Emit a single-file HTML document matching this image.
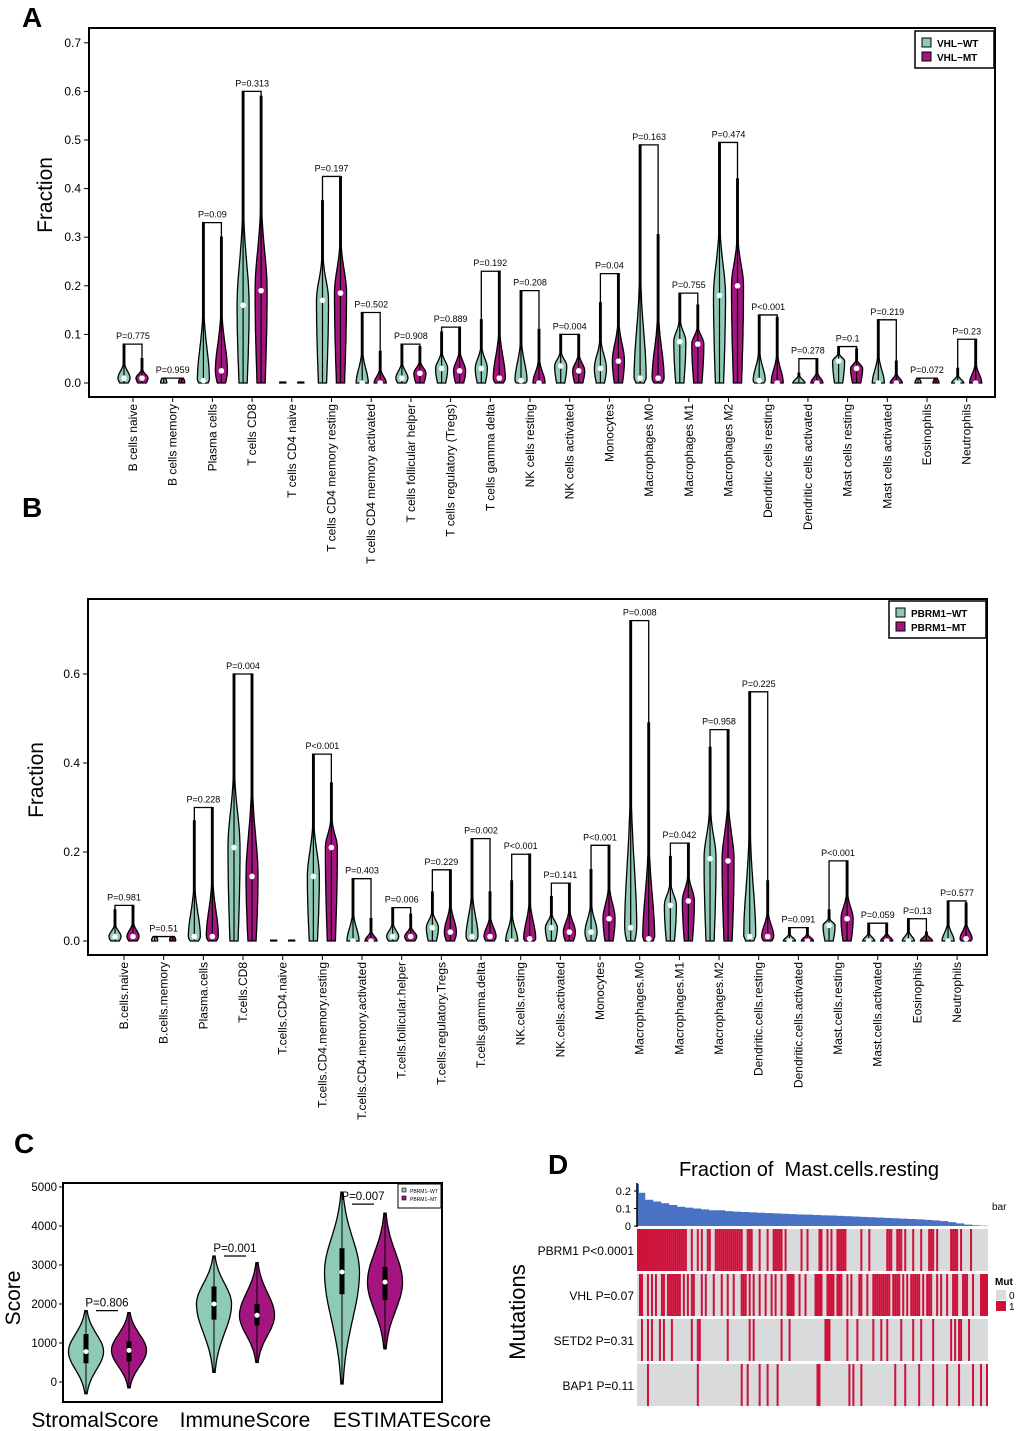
<!DOCTYPE html>
<html><head><meta charset="utf-8"><style>
body{margin:0;background:#fff;font-family:"Liberation Sans",Arial,sans-serif}
svg{display:block}
</style></head><body>
<svg id="fig" width="1020" height="1431" viewBox="0 0 1020 1431" xmlns="http://www.w3.org/2000/svg" font-family="Liberation Sans, Arial, sans-serif">
<text x="22" y="27" font-size="28" font-weight="bold">A</text>
<text x="22" y="517" font-size="28" font-weight="bold">B</text>
<text x="14" y="1153" font-size="28" font-weight="bold">C</text>
<text x="548" y="1174" font-size="28" font-weight="bold">D</text>
<g id="gA"></g>
<g id="gB"></g>
<g id="gC"></g>
<g id="gD"></g>
</svg>
<script>
// ---------- Panel A data (VHL) ----------
const catsA = ["B cells naive","B cells memory","Plasma cells","T cells CD8","T cells CD4 naive","T cells CD4 memory resting","T cells CD4 memory activated","T cells follicular helper","T cells regulatory (Tregs)","T cells gamma delta","NK cells resting","NK cells activated","Monocytes","Macrophages M0","Macrophages M1","Macrophages M2","Dendritic cells resting","Dendritic cells activated","Mast cells resting","Mast cells activated","Eosinophils","Neutrophils"];
const maxWtA = [0.08,0.01,0.33,0.60,0.002,0.375,0.145,0.08,0.105,0.13,0.19,0.10,0.165,0.49,0.185,0.495,0.14,0.02,0.075,0.13,0.01,0.03];
const medWtA = [0.01,0.002,0.005,0.16,0,0.17,0,0.01,0.03,0.03,0.005,0.035,0.03,0.01,0.085,0.18,0.005,0,0.045,0,0,0];
const maxMtA = [0.05,0.01,0.30,0.59,0.002,0.425,0.065,0.075,0.115,0.23,0.11,0.10,0.225,0.305,0.16,0.42,0.135,0.05,0.07,0.045,0.01,0.09];
const medMtA = [0.01,0.002,0.025,0.19,0,0.185,0,0.02,0.025,0.01,0,0.025,0.045,0.01,0.08,0.20,0,0,0.03,0,0,0];
const pA = ["P=0.775","P=0.959","P=0.09","P=0.313","","P=0.197","P=0.502","P=0.908","P=0.889","P=0.192","P=0.208","P=0.004","P=0.04","P=0.163","P=0.755","P=0.474","P<0.001","P=0.278","P=0.1","P=0.219","P=0.072","P=0.23"];
const ticksA = [0,0.1,0.2,0.3,0.4,0.5,0.6,0.7];
const legendA = ["VHL\u2212WT","VHL\u2212MT"];
// ---------- Panel B data (PBRM1) ----------
const catsB = ["B.cells.naive","B.cells.memory","Plasma.cells","T.cells.CD8","T.cells.CD4.naive","T.cells.CD4.memory.resting","T.cells.CD4.memory.activated","T.cells.follicular.helper","T.cells.regulatory.Tregs","T.cells.gamma.delta","NK.cells.resting","NK.cells.activated","Monocytes","Macrophages.M0","Macrophages.M1","Macrophages.M2","Dendritic.cells.resting","Dendritic.cells.activated","Mast.cells.resting","Mast.cells.activated","Eosinophils","Neutrophils"];
const maxWtB = [0.07,0.01,0.27,0.60,0.002,0.42,0.14,0.075,0.11,0.23,0.135,0.10,0.16,0.72,0.19,0.435,0.56,0.03,0.07,0.04,0.05,0.09];
const medWtB = [0.01,0.002,0.01,0.21,0,0.145,0,0.01,0.03,0.01,0,0.03,0.02,0.03,0.08,0.185,0.01,0,0.035,0,0,0];
const maxMtB = [0.08,0.01,0.30,0.60,0.002,0.355,0.05,0.06,0.16,0.11,0.195,0.13,0.215,0.49,0.22,0.475,0.135,0.03,0.18,0.04,0.02,0.085];
const medMtB = [0.01,0.002,0.01,0.145,0,0.21,0,0.01,0.02,0.01,0.005,0.02,0.05,0.005,0.09,0.18,0.01,0,0.05,0,0,0.005];
const pB = ["P=0.981","P=0.51","P=0.228","P=0.004","","P<0.001","P=0.403","P=0.006","P=0.229","P=0.002","P<0.001","P=0.141","P<0.001","P=0.008","P=0.042","P=0.958","P=0.225","P=0.091","P<0.001","P=0.059","P=0.13","P=0.577"];
const ticksB = [0,0.2,0.4,0.6];
const legendB = ["PBRM1\u2212WT","PBRM1\u2212MT"];
// ---------- Panel C data ----------
const catsC = ["StromalScore","ImmuneScore","ESTIMATEScore"];
const minWtC = [-300,250,-50], maxWtC = [1830,3230,4870], medWtC = [780,2000,2820], q1WtC=[480,1600,2250], q3WtC=[1230,2450,3430];
const minMtC = [-150,500,850], maxMtC = [1780,3060,4330], medMtC = [810,1710,2560], q1MtC=[530,1450,2100], q3MtC=[1040,2000,2950];
const pC = ["P=0.806","P=0.001","P=0.007"];
const pYC = [1830,3230,4560];
const ticksC = [0,1000,2000,3000,4000,5000];
// ---------- Panel D data ----------
const barD = [0.19,0.15,0.14,0.13,0.12,0.11,0.105,0.10,0.095,0.09,0.09,0.085,0.082,0.08,0.078,0.076,0.074,0.072,0.07,0.068,0.066,0.065,0.063,0.061,0.06,0.058,0.056,0.054,0.052,0.05,0.048,0.046,0.044,0.042,0.04,0.038,0.035,0.032,0.028,0.022,0.015,0.008,0.004,0.002];
const genesD = ["PBRM1 P<0.0001","VHL P=0.07","SETD2 P=0.31","BAP1 P=0.11"];
const mutPBRM1 = [0,1,2,3,4,5,6,7,8,9,10,11,12,13,14,15,16,17,18,19,20,21,22,23,24,27,30,32,35,36,39,40,41,42,43,44,45,46,47,48,49,50,51,52,55,56,57,61,65,68,69,70,71,72,74,82,85,91,92,95,97,100,101,102,103,104,112,116,125,126,127,130,131,132,134,138,142,146,147,148,150,157,158,159,160,162,167];
const mutVHL = [1,2,5,7,9,12,13,15,16,17,18,19,20,21,23,25,27,28,32,34,38,42,45,48,52,53,54,56,58,61,64,67,69,72,75,76,77,78,81,84,89,90,91,92,95,96,97,98,100,101,102,105,107,111,112,115,118,119,120,121,122,123,124,125,126,128,129,130,131,133,135,137,138,139,140,141,143,145,146,147,150,152,155,158,159,160,163,164,165,168,172,173,174,175];
const mutSETD2 = [2,5,7,11,13,17,27,30,31,45,56,58,72,76,94,95,96,105,110,118,122,125,132,138,142,148,157,159,161,162,166];
const mutBAP1 = [5,30,52,55,61,65,70,90,91,106,108,112,129,134,141,148,155,161,168,172,175];
const ticksD = [0,0.1,0.2];
const NS = "http://www.w3.org/2000/svg";
const TEAL = "#8ecab5", MAG = "#a3167f";
function mk(parent, tag, attrs, txt){const e=document.createElementNS(NS,tag);for(const k in attrs)e.setAttribute(k,attrs[k]);if(txt!==undefined)e.textContent=txt;parent.appendChild(e);return e;}

function violinPath(cx, yScale, lo, hi, med, hw, sd){
  const L=[],R=[];const n=50;
  for(let i=0;i<=n;i++){const v=lo+(hi-lo)*i/n;const s=v<med?sd[0]:sd[1];
    let w=hw*Math.exp(-Math.pow((v-med)/s,2));w=Math.max(w,0.8);
    const y=yScale(v);L.push([cx-w,y]);R.push([cx+w,y]);}
  let d="M"+L.map(p=>p[0].toFixed(1)+","+p[1].toFixed(1)).join("L");
  d+="L"+R.reverse().map(p=>p[0].toFixed(1)+","+p[1].toFixed(1)).join("L")+"Z";
  return d;
}

function drawViolinPanel(g, cfg){
  const {x0,x1,y0,y1,zeroY,unitPx,cats,maxW,medW,maxM,medM,p,ticks,legend,lx,ly,lw,title,titleY,first,step,tickFmt}=cfg;
  const y=v=>zeroY-v*unitPx;
  const xc=i=>first+i*step;
  let e=mk(g,"rect",{x:x0,y:y0,width:x1-x0,height:y1-y0,fill:"none",stroke:"#000","stroke-width":2});
  
  ticks.forEach(t=>{mk(g,"line",{x1:x0-5,x2:x0,y1:y(t),y2:y(t),stroke:"#000"});
    e=mk(g,"text",{x:x0-8,y:y(t)+4,"font-size":12,"text-anchor":"end"},tickFmt(t));
    });
  e=mk(g,"text",{transform:`translate(${titleY[0]},${titleY[1]}) rotate(-90)`,"font-size":21,"text-anchor":"middle"},title);
  
  cats.forEach((c,i)=>{
    const cx=xc(i);
    mk(g,"line",{x1:cx,x2:cx,y1:y1,y2:y1+5,stroke:"#000"});
    e=mk(g,"text",{transform:`translate(${cx+4},${y1+7}) rotate(-90)`,"font-size":12,"text-anchor":"end"},c);
    
    [[cx-9,maxW[i],medW[i],TEAL],[cx+9,maxM[i],medM[i],MAG]].forEach(([vx,mx,md,col],k)=>{
      const sdLo=Math.max(md,0.006), sdHi=Math.max((mx-md)*0.28,0.01);
      const hw = mx<0.015?3:6;
      e=mk(g,"path",{d:violinPath(vx,y,0,mx,md,hw,[sdLo*1.6,sdHi]),fill:col,stroke:"#000","stroke-width":1.3});
      
      mk(g,"line",{x1:vx,x2:vx,y1:y(0),y2:y(mx),stroke:"#000","stroke-width":1.2});
      if(mx>0.02){e=mk(g,"circle",{cx:vx,cy:y(md),r:2.8,fill:"#fff"});
      }
    });
    if(p[i]){
      const top=Math.max(maxW[i],maxM[i]);
      mk(g,"path",{d:`M${cx-9},${y(maxW[i])}V${y(top)}H${cx+9}V${y(maxM[i])}`,fill:"none",stroke:"#000","stroke-width":1.3});
      e=mk(g,"text",{x:cx,y:y(top)-5,"font-size":9,"text-anchor":"middle"},p[i]);
      
    }
  });
  e=mk(g,"rect",{x:lx,y:ly,width:lw,height:37,fill:"#fff",stroke:"#000","stroke-width":1.5});
  
  [TEAL,MAG].forEach((col,k)=>{
    mk(g,"rect",{x:lx+7,y:ly+7+k*14,width:9,height:9,fill:col,stroke:"#000"});
    e=mk(g,"text",{x:lx+22,y:ly+16+k*14,"font-size":10,"font-weight":"bold"},legend[k]);
    
  });
}
drawViolinPanel(document.getElementById("gA"),{x0:89,x1:995,y0:28,y1:397,zeroY:383,unitPx:486,cats:catsA,maxW:maxWtA,medW:medWtA,maxM:maxMtA,medM:medMtA,p:pA,ticks:ticksA,legend:legendA,lx:915,ly:31,lw:79,title:"Fraction",titleY:[52,195],first:133,step:39.7,tickFmt:t=>t.toFixed(1)});
drawViolinPanel(document.getElementById("gB"),{x0:88,x1:987,y0:599,y1:955,zeroY:941,unitPx:445,cats:catsB,maxW:maxWtB,medW:medWtB,maxM:maxMtB,medM:medMtB,p:pB,ticks:ticksB,legend:legendB,lx:889,ly:601,lw:97,title:"Fraction",titleY:[43,780],first:124,step:39.67,tickFmt:t=>t.toFixed(1)});

// ---------- Panel C ----------
(function(){
  const g=document.getElementById("gC");
  const x0=63,x1=442,y0=1183,y1=1402;
  const y=v=>1382-v*0.039;
  const centers=[107,235,363];
  let e=mk(g,"rect",{x:x0,y:y0,width:x1-x0,height:y1-y0,fill:"none",stroke:"#000","stroke-width":2});
  
  ticksC.forEach(t=>{mk(g,"line",{x1:x0-4,x2:x0,y1:y(t),y2:y(t),stroke:"#000"});
    e=mk(g,"text",{x:x0-6,y:y(t)+4,"font-size":11.5,"text-anchor":"end"},String(t));
    });
  e=mk(g,"text",{transform:"translate(20,1298) rotate(-90)","font-size":21,"text-anchor":"middle"},"Score");
  
  catsC.forEach((c,i)=>{
    const cx=centers[i];
    e=mk(g,"text",{x:[95,245,412][i],y:1427,"font-size":21,"text-anchor":"middle"},c);
    
    [[cx-21,minWtC[i],maxWtC[i],medWtC[i],q1WtC[i],q3WtC[i],TEAL],[cx+22,minMtC[i],maxMtC[i],medMtC[i],q1MtC[i],q3MtC[i],MAG]].forEach(([vx,lo,hi,md,q1,q3,col],k)=>{
      const dPath=violinPath(vx,y,lo,hi,md,17.5,[(md-lo)*0.6,(hi-md)*0.6]);
      e=mk(g,"path",{d:dPath,fill:col,stroke:"#000","stroke-width":1.3});
      
      mk(g,"line",{x1:vx,x2:vx,y1:y(lo),y2:y(hi),stroke:"#000","stroke-width":1});
      mk(g,"rect",{x:vx-2.5,y:y(q3),width:5,height:y(q1)-y(q3),fill:"#000"});
      e=mk(g,"circle",{cx:vx,cy:y(md),r:2.5,fill:"#fff"});
      
    });
    mk(g,"line",{x1:cx-11,x2:cx+11,y1:y(pYC[i]),y2:y(pYC[i]),stroke:"#000","stroke-width":1.2});
    e=mk(g,"text",{x:cx,y:y(pYC[i])-4,"font-size":11.5,"text-anchor":"middle"},pC[i]);
    
  });
  e=mk(g,"rect",{x:398,y:1184,width:43,height:24,fill:"#fff",stroke:"#000"});
  
  [TEAL,MAG].forEach((col,k)=>{mk(g,"rect",{x:402,y:1188+k*8,width:4,height:4,fill:col,stroke:"#000","stroke-width":0.6});
    e=mk(g,"text",{x:410,y:1193+k*8,"font-size":5},legendB[k]);
    });
})();

// ---------- Panel D ----------
(function(){
  const g=document.getElementById("gD");
  const X0=637,X1=988,N=176,cw=(X1-X0)/N;
  const y=v=>1226-v*175;
  let e=mk(g,"text",{x:809,y:1176,"font-size":20,"text-anchor":"middle"},"Fraction of\u00a0 Mast.cells.resting");
  
  const bw=(X1-X0)/barD.length;
  barD.forEach((v,i)=>{e=mk(g,"rect",{x:X0+i*bw,y:y(v),width:bw+0.3,height:y(0)-y(v),fill:"#4a72c4"});
    });
  mk(g,"rect",{x:X0,y:y(0.24),width:2,height:y(0)-y(0.24),fill:"#4a72c4"});
  mk(g,"line",{x1:X0,x2:X0,y1:1183,y2:1227,stroke:"#000","stroke-width":1.5});
  ticksD.forEach(t=>{mk(g,"line",{x1:X0-3,x2:X0,y1:y(t),y2:y(t),stroke:"#000"});
    e=mk(g,"text",{x:X0-6,y:y(t)+4,"font-size":11,"text-anchor":"end"},String(t));
    });
  e=mk(g,"text",{x:992,y:1210,"font-size":10},"bar");
  
  const rows=[mutPBRM1,mutVHL,mutSETD2,mutBAP1];
  const rowY=[1229,1274,1319,1364];
  rows.forEach((arr,r)=>{
    e=mk(g,"rect",{x:X0,y:rowY[r],width:X1-X0,height:42,fill:"#d9dadb"});
    
    arr.forEach(ci=>{e=mk(g,"rect",{x:X0+ci*cw,y:rowY[r],width:cw,height:42,fill:"#d0103a"});
      });
    e=mk(g,"text",{x:634,y:rowY[r]+26,"font-size":12,"text-anchor":"end"},genesD[r]);
    
  });
  e=mk(g,"text",{transform:"translate(525,1312) rotate(-90)","font-size":22,"text-anchor":"middle"},"Mutations");
  
  e=mk(g,"text",{x:995,y:1285,"font-size":10,"font-weight":"bold"},"Mut");
  
  mk(g,"rect",{x:996,y:1290,width:10,height:10,fill:"#d9dadb"});
  mk(g,"rect",{x:996,y:1301,width:10,height:10,fill:"#d0103a"});
  e=mk(g,"text",{x:1009,y:1299,"font-size":10},"0");
  e=mk(g,"text",{x:1009,y:1310,"font-size":10},"1");
})();
</script>
</body></html>
